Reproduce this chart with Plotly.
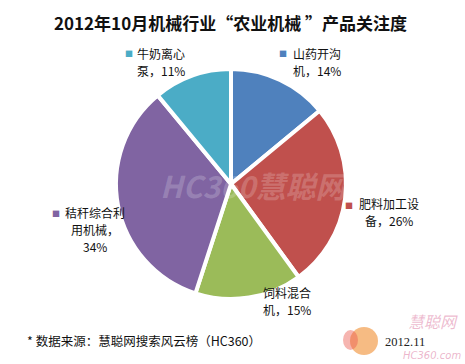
import plotly.graph_objects as go

W, H = 465, 364

categories = ["山药开沟机", "肥料加工设备", "饲料混合机", "秸秆综合利用机械", "牛奶离心泵"]
values = [14, 26, 15, 34, 11]
colors = ["#4F81BD", "#C0504D", "#9BBB59", "#8064A2", "#4BACC6"]
# label line breaks as shown on the chart
label_lines = [
    ["山药开沟", "机，{v}%"],
    ["肥料加工设", "备，{v}%"],
    ["饲料混合", "机，{v}%"],
    ["秸秆综合利", "用机械，", "{v}%"],
    ["牛奶离心", "泵，{v}%"],
]
title = "2012年10月机械行业“农业机械 ”产品关注度"
source = "* 数据来源：慧聪网搜索风云榜（HC360）"
date_text = "2012.11"

FONT = "Noto Sans CJK SC"


def px(x):
    return x / W


def py(y):
    return 1 - y / H


cx, cy, r = 231, 184, 115

fig = go.Figure(go.Pie(
    labels=categories,
    values=values,
    sort=False,
    direction="clockwise",
    rotation=0,
    marker=dict(colors=colors, line=dict(color="white", width=4)),
    textinfo="none",
    hoverinfo="label+percent",
    showlegend=False,
    domain=dict(x=[px(cx - r), px(cx + r)], y=[py(cy + r), py(cy - r)]),
))

annotations = []
LH = 17
# label placement: (square x, square y, text x, first line y, align)
label_pos = [
    (283, 53, 292, 53, "left"),
    (349, 205, 389, 203, "center"),
    (None, None, 262, 292, "left"),
    (56, 213, 95, 212, "center"),
    (129, 53, 136, 53, "left"),
]
for i, (cat, v) in enumerate(zip(categories, values)):
    sx, sy, tx, ty, al = label_pos[i]
    if sx is not None:
        annotations.append(dict(
            x=px(sx), y=py(sy), xref="paper", yref="paper",
            text="■", showarrow=False, xanchor="center", yanchor="middle",
            font=dict(family=FONT, size=8, color=colors[i]),
        ))
    for j, line in enumerate(label_lines[i]):
        annotations.append(dict(
            x=px(tx), y=py(ty + j * LH), xref="paper", yref="paper",
            text=line.format(v=v), showarrow=False,
            xanchor=al, yanchor="middle", borderpad=0,
            font=dict(family=FONT, size=12, color="#111111"),
        ))

# title
annotations.append(dict(
    x=px(230), y=py(22), xref="paper", yref="paper", text="<b>" + title + "</b>",
    showarrow=False, xanchor="center", yanchor="middle",
    font=dict(family=FONT, size=17, color="#111111"),
))
# source
annotations.append(dict(
    x=px(25), y=py(340), xref="paper", yref="paper", text=source,
    showarrow=False, xanchor="left", yanchor="middle",
    font=dict(family=FONT, size=12.5, color="#111111"),
))

# watermark in the middle
annotations.append(dict(
    x=px(255), y=py(185), xref="paper", yref="paper",
    text="<b><i>HC360慧聪网</i></b>", showarrow=False,
    xanchor="center", yanchor="middle",
    font=dict(family=FONT, size=30, color="rgba(255,255,255,0.2)"),
))
# logo bottom right
annotations.append(dict(
    x=px(433), y=py(321), xref="paper", yref="paper",
    text="<i>慧聪网</i>", showarrow=False, xanchor="center", yanchor="middle",
    borderpad=0,
    font=dict(family=FONT, size=16, color="rgba(220,120,160,0.5)"),
))
annotations.append(dict(
    x=px(432), y=py(355), xref="paper", yref="paper",
    text="<i>HC360.com</i>", showarrow=False, xanchor="center", yanchor="middle",
    borderpad=0,
    font=dict(family="DejaVu Sans", size=10, color="rgba(220,120,160,0.55)"),
))
annotations.append(dict(
    x=px(405), y=py(342), xref="paper", yref="paper", text=date_text,
    showarrow=False, xanchor="center", yanchor="middle", borderpad=0,
    font=dict(family="Liberation Serif", size=12.5, color="#222222"),
))

shapes = [
    dict(type="circle", xref="paper", yref="paper",
         x0=px(350), x1=px(378), y0=py(355), y1=py(327),
         fillcolor="rgba(244,170,100,0.8)", line=dict(width=0), layer="below"),
    dict(type="circle", xref="paper", yref="paper",
         x0=px(343), x1=px(358), y0=py(350), y1=py(330),
         fillcolor="rgba(235,90,80,0.45)", line=dict(width=0), layer="below"),
]

fig.update_layout(
    width=W, height=H,
    margin=dict(l=0, r=0, t=0, b=0),
    paper_bgcolor="white", plot_bgcolor="white",
    annotations=annotations, shapes=shapes,
)

fig.write_html("out.html", config={"displayModeBar": False},
               post_script="document.body.style.margin='0';")
